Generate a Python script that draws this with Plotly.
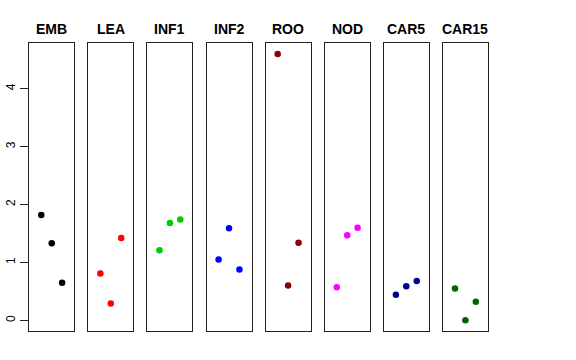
import plotly.graph_objects as go

panels = ["EMB", "LEA", "INF1", "INF2", "ROO", "NOD", "CAR5", "CAR15"]
colors = ["#000000", "#FF0000", "#00CD00", "#0000FF", "#8B0000", "#FF00FF", "#00008B", "#006400"]
x_pos = [1, 2, 3]
EMB = [1.82, 1.33, 0.65]
LEA = [0.81, 0.29, 1.42]
INF1 = [1.21, 1.68, 1.74]
INF2 = [1.05, 1.59, 0.88]
ROO = [4.60, 0.60, 1.34]
NOD = [0.57, 1.47, 1.60]
CAR5 = [0.44, 0.59, 0.68]
CAR15 = [0.55, 0.00, 0.32]
values = [EMB, LEA, INF1, INF2, ROO, NOD, CAR5, CAR15]
y_ticks = [0, 1, 2, 3, 4]

W, H = 576, 360
ymin, ymax = 0.0, 4.60
pad = 0.04 * (ymax - ymin)
yrange = [ymin - pad, ymax + pad]
xrange = [-0.16, 4.16]

left0, step, pw = 29.2, 59.1, 45.0
top_px, bot_px = 43.3, 331.0
ydom = [(H - bot_px) / H, (H - top_px) / H]

fig = go.Figure()
layout = dict(width=W, height=H, margin=dict(l=0, r=0, t=0, b=0, autoexpand=False),
              paper_bgcolor="white", plot_bgcolor="white", showlegend=False,
              font=dict(family="Liberation Sans, Arial, sans-serif", color="black"))
annotations = []
for i, (name, col, vals) in enumerate(zip(panels, colors, values)):
    sfx = "" if i == 0 else str(i + 1)
    l = left0 + i * step
    xd = [l / W, (l + pw) / W]
    fig.add_trace(go.Scatter(x=x_pos, y=vals, mode="markers",
                             marker=dict(color=col, size=6.5),
                             xaxis="x" + sfx, yaxis="y" + sfx))
    layout["xaxis" + sfx] = dict(domain=xd, range=xrange, anchor="y" + sfx,
                                 showgrid=False, zeroline=False, showticklabels=False,
                                 ticks="", showline=True, mirror=True, automargin=False,
                                 linecolor="#222222", linewidth=1)
    ya = dict(domain=ydom, range=yrange, anchor="x" + sfx, automargin=False,
              showgrid=False, zeroline=False, showline=True, mirror=True,
              linecolor="#222222", linewidth=1)
    if i == 0:
        ya.update(tickvals=y_ticks, ticks="outside", ticklen=8, tickcolor="#222222",
                  tickangle=-90, tickfont=dict(size=12, color="black"))
    else:
        ya.update(showticklabels=False, ticks="")
    layout["yaxis" + sfx] = ya
    annotations.append(dict(text="<b>" + name + "</b>", x=(l + pw / 2) / W,
                            y=(H - 29) / H, xref="paper", yref="paper",
                            xanchor="center", yanchor="middle", showarrow=False,
                            font=dict(size=14, color="black")))
layout["annotations"] = annotations
fig.update_layout(**layout)
fig.write_html("out.html", config={"displayModeBar": False},
               post_script="document.body.style.margin='0';document.body.style.overflow='hidden';")
